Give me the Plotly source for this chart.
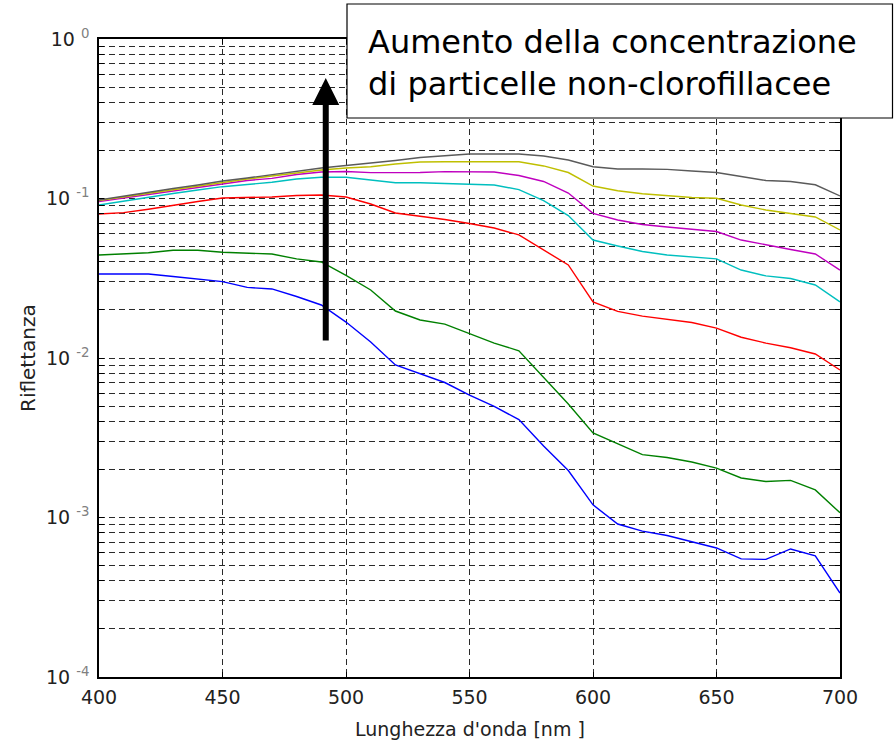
import math
import plotly.graph_objects as go

# ---------------- data ----------------
wavelength = list(range(400, 701, 10))

refl_blue = [0.0336, 0.0336, 0.0336, 0.0324, 0.0311, 0.0301, 0.0277, 0.0271, 0.0243, 0.0215,
             0.0168, 0.0126, 0.00904, 0.00794, 0.00702, 0.00586, 0.00497, 0.00411, 0.00281, 0.00197,
             0.00120, 0.00091, 0.000822, 0.000771, 0.000702, 0.000644, 0.000550, 0.000546, 0.000635, 0.000574,
             0.000336]
refl_green = [0.0442, 0.0449, 0.0457, 0.0474, 0.0474, 0.0460, 0.0453, 0.0449, 0.0418, 0.0400,
              0.0330, 0.0267, 0.0197, 0.0173, 0.0163, 0.01425, 0.0124, 0.0111, 0.0076, 0.00515,
              0.00339, 0.00291, 0.00248, 0.00238, 0.00223, 0.00204, 0.00177, 0.00168, 0.00171, 0.00149,
              0.00107]
refl_red = [0.0800, 0.0815, 0.0856, 0.0910, 0.0958, 0.1007, 0.1012, 0.1022, 0.1044, 0.1052,
            0.1022, 0.0924, 0.0811, 0.0777, 0.0738, 0.0697, 0.0653, 0.0591, 0.0475, 0.0383,
            0.0225, 0.0196, 0.0183, 0.0174, 0.0167, 0.0154, 0.0135, 0.0124, 0.0116, 0.0106,
            0.00841]
refl_cyan = [0.0910, 0.0965, 0.1022, 0.1074, 0.1130, 0.1186, 0.1224, 0.1264, 0.1325, 0.1358,
             0.1358, 0.1306, 0.1256, 0.1256, 0.1242, 0.1227, 0.1215, 0.1138, 0.0971, 0.0782,
             0.0549, 0.0504, 0.0465, 0.0442, 0.0430, 0.0418, 0.0356, 0.0327, 0.0315, 0.0287,
             0.0225]
refl_magenta = [0.0958, 0.1007, 0.1059, 0.1122, 0.1180, 0.1242, 0.1297, 0.1338, 0.1414, 0.1467,
                0.1477, 0.1452, 0.1452, 0.1455, 0.1473, 0.1473, 0.1467, 0.1394, 0.1279, 0.1082,
                0.0807, 0.0733, 0.0687, 0.0662, 0.0644, 0.0621, 0.0549, 0.0511, 0.0479, 0.0449,
                0.0356]
refl_yellow = [0.0971, 0.1022, 0.1082, 0.1138, 0.1198, 0.1264, 0.1325, 0.1384, 0.1445, 0.1510,
               0.1553, 0.1582, 0.1644, 0.1694, 0.1698, 0.1698, 0.1698, 0.1698, 0.1600, 0.1455,
               0.1198, 0.1119, 0.1070, 0.1037, 0.1015, 0.1003, 0.0910, 0.0847, 0.0805, 0.0766,
               0.0635]
refl_grey = [0.0979, 0.1037, 0.1099, 0.1155, 0.1215, 0.1288, 0.1344, 0.1414, 0.1487, 0.1553,
             0.1610, 0.1663, 0.1731, 0.1808, 0.1862, 0.1901, 0.1901, 0.1901, 0.1847, 0.1743,
             0.1582, 0.1531, 0.1531, 0.1523, 0.1487, 0.1456, 0.1375, 0.1297, 0.1279, 0.1219,
             0.1037]

x_ticks = [400, 450, 500, 550, 600, 650, 700]
y_decades = [-4, -3, -2, -1, 0]

arrow_wavelength = 491.8
arrow_from = 0.0126
arrow_to = 0.569

annotation_lines = ["Aumento della concentrazione", "di particelle non-clorofillacee"]
x_title = "Lunghezza d'onda [nm ]"
y_title = "Riflettanza"

# ---------------- figure ----------------
W, H = 894, 742
ML, MR, MT, MB = 99, 54, 39, 65
PW, PH = W - ML - MR, H - MT - MB


def px_x(px):
    return (px - ML) / PW


def px_y(py):
    return (H - MB - py) / PH


series = [
    (refl_blue, "#0000FF"),
    (refl_green, "#008000"),
    (refl_red, "#FF0000"),
    (refl_cyan, "#00BFBF"),
    (refl_magenta, "#BF00BF"),
    (refl_yellow, "#BFBF00"),
    (refl_grey, "#5A5A5A"),
]

fig = go.Figure()
for vals, col in series:
    fig.add_trace(go.Scatter(x=wavelength, y=vals, mode="lines",
                             line=dict(color=col, width=1.4), showlegend=False,
                             hoverinfo="skip"))

# y tick values: decades + minor (2..9)
y_tickvals, y_ticktext = [], []
for d in y_decades:
    y_tickvals.append(10.0 ** d)
    y_ticktext.append("10 <sup><span style='color:#808080'>%d</span></sup>" % d)
    if d < 0:
        for m in range(2, 10):
            y_tickvals.append(m * 10.0 ** d)
            y_ticktext.append("")

grid_common = dict(showgrid=True, gridcolor="#2a2a2a", gridwidth=1, griddash="6px,4px",
                   showline=True, linecolor="black", linewidth=1.5, mirror="ticks",
                   ticks="inside", ticklen=5, tickcolor="black", zeroline=False,
                   tickfont=dict(family="DejaVu Sans", size=19, color="#222222"))

fig.update_xaxes(range=[400, 700], tickvals=x_ticks, ticklabelstandoff=2, **grid_common)
fig.update_yaxes(type="log", range=[-4, 0], tickvals=y_tickvals, ticktext=y_ticktext,
                 ticklabelstandoff=4, **grid_common)

annotations = [
    # axis titles
    dict(text=x_title, xref="paper", yref="paper", x=0.5, y=px_y(729), xanchor="center",
         yanchor="middle", showarrow=False, font=dict(family="DejaVu Sans", size=19, color="#222222")),
    dict(text=y_title, xref="paper", yref="paper", x=px_x(28), y=0.5, xanchor="center",
         yanchor="middle", textangle=-90, showarrow=False,
         font=dict(family="DejaVu Sans", size=20, color="#222222")),
    # arrow
    dict(x=arrow_wavelength, y=math.log10(arrow_to), ax=arrow_wavelength, ay=math.log10(arrow_from),
         xref="x", yref="y", axref="x", ayref="y", text="", showarrow=True,
         arrowhead=2, arrowsize=0.9, arrowwidth=6, arrowcolor="black"),
    # annotation text
    dict(text="<br>".join(annotation_lines), xref="paper", yref="paper",
         x=px_x(366), y=px_y(63), xanchor="left", yanchor="middle", align="left",
         showarrow=False,
         font=dict(family="DejaVu Sans", size=32, color="black")),
]

shapes = [
    dict(type="rect", xref="paper", yref="paper", x0=px_x(347), x1=px_x(892.5),
         y0=px_y(118), y1=px_y(4), line=dict(color="black", width=1.2),
         fillcolor="white", layer="above"),
]

fig.update_layout(width=W, height=H, margin=dict(l=ML, r=MR, t=MT, b=MB),
                  paper_bgcolor="white", plot_bgcolor="white",
                  annotations=annotations, shapes=shapes, showlegend=False)

fig.write_html("out.html", config={"displayModeBar": False},
               post_script="document.body.style.margin='0';document.body.style.overflow='hidden';")
